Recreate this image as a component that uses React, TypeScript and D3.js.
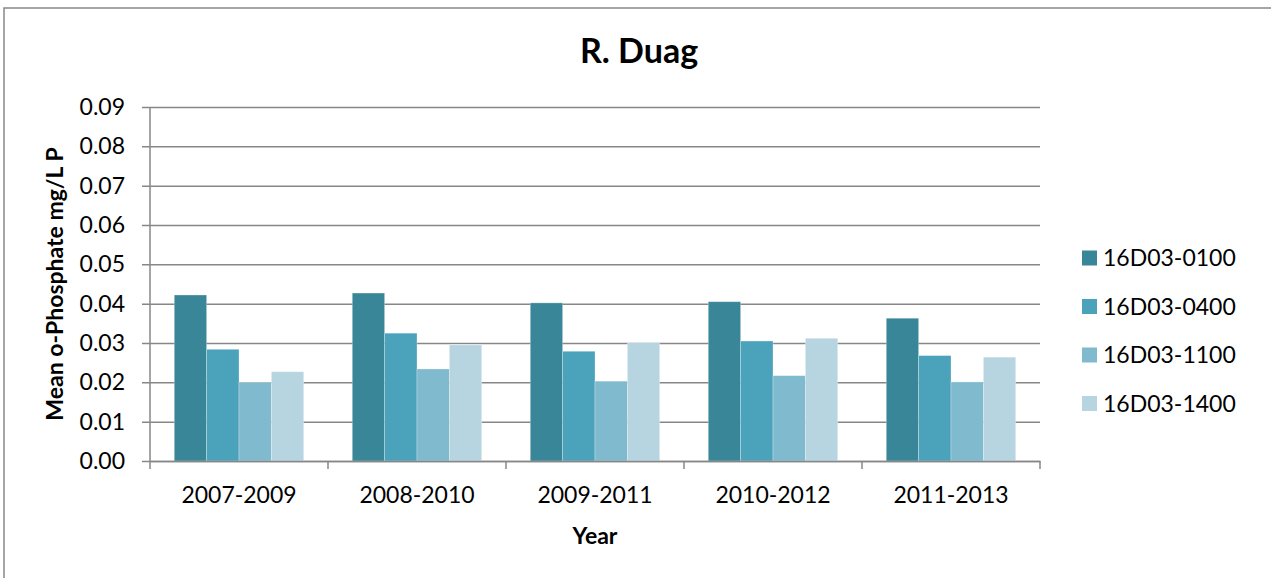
import React, { useEffect, useRef } from 'react';
import * as d3 from 'd3';

const periods = ['2007-2009', '2008-2010', '2009-2011', '2010-2012', '2011-2013'];
const stations = ['16D03-0100', '16D03-0400', '16D03-1100', '16D03-1400'];
const s0100 = [0.0422, 0.0427, 0.0402, 0.0405, 0.0363];
const s0400 = [0.0284, 0.0325, 0.0279, 0.0305, 0.0268];
const s1100 = [0.02, 0.0234, 0.0203, 0.0217, 0.0201];
const s1400 = [0.0227, 0.0295, 0.0301, 0.0312, 0.0264];
const yTicks = [0, 0.01, 0.02, 0.03, 0.04, 0.05, 0.06, 0.07, 0.08, 0.09];
const colors = ['#3a8699', '#4aa3ba', '#7fbacf', '#b7d5e0'];

const App: React.FC = () => {
  const ref = useRef(null);

  useEffect(() => {
    if (!ref.current) return;
    const svg = d3.select(ref.current);
    svg.selectAll('*').remove();

    const font = 'Lato, "Noto Sans", sans-serif';
    const left = 150;
    const right = 1040;
    const top = 107;
    const bottom = 461;

    // outer chart border
    svg
      .append('rect')
      .attr('x', 4)
      .attr('y', 8)
      .attr('width', 1400)
      .attr('height', 700)
      .attr('fill', 'white')
      .attr('stroke', '#888')
      .attr('stroke-width', 1.5);

    const x0 = d3.scaleBand().domain(periods).range([left, right]);
    const x1 = d3
      .scaleBand()
      .domain(stations)
      .range([0, x0.bandwidth()])
      .paddingInner(0)
      .paddingOuter(0.75);
    const y = d3.scaleLinear().domain([0, 0.09]).range([bottom, top]);

    // gridlines + y axis
    const yAxis = svg
      .append('g')
      .attr('transform', `translate(${left},0)`)
      .call(
        d3
          .axisLeft(y)
          .tickValues(yTicks)
          .tickFormat(d3.format('.2f'))
          .tickSizeInner(-(right - left))
          .tickSizeOuter(0)
          .tickPadding(25)
      );
    yAxis.select('.domain').remove();
    yAxis
      .selectAll('.tick line')
      .attr('x1', -8)
      .attr('stroke', '#878787')
      .attr('stroke-width', 1.5);
    yAxis
      .selectAll('.tick text')
      .attr('font-family', font)
      .attr('font-size', 23)
      .attr('fill', '#000');

    // bars
    const series = [s0100, s0400, s1100, s1400];
    series.forEach((vals, si) => {
      svg
        .append('g')
        .selectAll('rect')
        .data(vals)
        .enter()
        .append('rect')
        .attr('x', (d, i) => (x0(periods[i]) as number) + (x1(stations[si]) as number))
        .attr('y', (d) => y(d))
        .attr('width', x1.bandwidth())
        .attr('height', (d) => bottom - y(d))
        .attr('fill', colors[si])
        .attr('stroke', 'rgba(255,255,255,0.35)')
        .attr('stroke-width', 0.8);
    });

    // vertical axis line
    svg
      .append('line')
      .attr('x1', left)
      .attr('x2', left)
      .attr('y1', top)
      .attr('y2', bottom)
      .attr('stroke', '#878787')
      .attr('stroke-width', 1.5);

    // x axis
    const xAxis = svg
      .append('g')
      .attr('transform', `translate(0,${bottom})`)
      .call(d3.axisBottom(x0).tickSize(0).tickPadding(26));
    xAxis.select('.domain').attr('stroke', '#878787').attr('stroke-width', 1.5);
    xAxis
      .selectAll('.tick text')
      .attr('font-family', font)
      .attr('font-size', 23)
      .attr('fill', '#000');
    const boundaries = periods.map((p) => x0(p) as number).concat([right]);
    xAxis
      .selectAll('line.bound')
      .data(boundaries)
      .enter()
      .append('line')
      .attr('class', 'bound')
      .attr('x1', (d) => d)
      .attr('x2', (d) => d)
      .attr('y1', 0)
      .attr('y2', 8)
      .attr('stroke', '#878787')
      .attr('stroke-width', 1.5);

    // title
    svg
      .append('text')
      .attr('x', 639)
      .attr('y', 63)
      .attr('text-anchor', 'middle')
      .attr('font-family', font)
      .attr('font-weight', 'bold')
      .attr('font-size', 34)
      .text('R. Duag');

    // axis titles
    svg
      .append('text')
      .attr('x', (left + right) / 2)
      .attr('y', 544)
      .attr('text-anchor', 'middle')
      .attr('font-family', font)
      .attr('font-weight', 'bold')
      .attr('font-size', 23)
      .text('Year');

    svg
      .append('text')
      .attr('transform', `translate(63,${(top + bottom) / 2}) rotate(-90)`)
      .attr('text-anchor', 'middle')
      .attr('font-family', font)
      .attr('font-weight', 'bold')
      .attr('font-size', 23)
      .text('Mean o-Phosphate mg/L P');

    // legend
    const legend = svg
      .append('g')
      .selectAll('g')
      .data(stations)
      .enter()
      .append('g')
      .attr('transform', (d, i) => `translate(1082,${258 + i * 48.5})`);
    legend
      .append('rect')
      .attr('x', 0)
      .attr('y', -7.5)
      .attr('width', 15)
      .attr('height', 15)
      .attr('fill', (d, i) => colors[i]);
    legend
      .append('text')
      .attr('x', 21)
      .attr('dy', '0.35em')
      .attr('font-family', font)
      .attr('font-size', 23)
      .text((d) => d);
  }, []);

  return (
    <svg
      ref={ref}
      width={1271}
      height={578}
      style={{ position: 'absolute', left: 0, top: 0, display: 'block' }}
    />
  );
};

export default App;
